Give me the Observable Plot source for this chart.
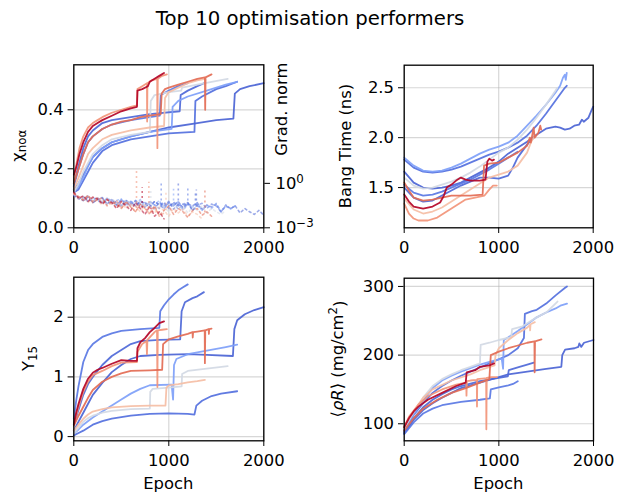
<!DOCTYPE html>
<html><head><meta charset="utf-8">
<script src="https://cdn.jsdelivr.net/npm/d3@7"></script>
<script src="https://cdn.jsdelivr.net/npm/@observablehq/plot@0.6"></script>
<style>
body{margin:0;background:#fff;}
#fig{position:relative;width:618px;height:496px;font-family:"DejaVu Sans",sans-serif;background:#fff;}
#fig svg{position:absolute;left:0;top:0;overflow:visible;}
</style></head><body>
<div id="fig"></div>
<script>
// ---------- data ----------
const runNames = ["run 1","run 2","run 3","run 4","run 5","run 6","run 7","run 8","run 9","run 10"];
const runColors = ["#b40426","#e36b54","#f29478","#f5bea5","#d3d9e4","#7ea0f8","#5a78e4","#4e68d8","#4b64d5","#5470de"];
const xTicks = [0, 1000, 2000];
const chiTicks = [0, 0.2, 0.4];
const gradTicks = [1e-3, 1];
const bangTicks = [1.5, 2.0, 2.5];
const yieldTicks = [0, 1, 2];
const rhoRTicks = [100, 200, 300];
const gradStep = 50;

const chiRuns = [
 [[0,0.18],[30,0.21],[60,0.25],[100,0.29],[150,0.325],[200,0.345],[250,0.355],[300,0.365],[400,0.38],[500,0.395],[600,0.405],[665,0.41],[670,0.465],[720,0.47],[780,0.48],[800,0.495],[850,0.505],[900,0.515],[950,0.525]],
 [[0,0.15],[50,0.2],[100,0.25],[150,0.29],[200,0.31],[300,0.335],[400,0.35],[500,0.36],[600,0.365],[700,0.375],[800,0.38],[915,0.385],[925,0.455],[960,0.47],[1000,0.475],[1100,0.485],[1200,0.495],[1300,0.505],[1380,0.51],[1383,0.40],[1387,0.51],[1450,0.52]],
 [[0,0.16],[30,0.22],[60,0.27],[100,0.31],[150,0.34],[200,0.355],[250,0.365],[300,0.375],[400,0.39],[500,0.40],[600,0.41],[665,0.415],[670,0.47],[720,0.48],[770,0.49],[772,0.36],[775,0.49],[820,0.50],[878,0.505],[880,0.27],[884,0.505],[930,0.515],[980,0.52]],
 [[0,0.13],[50,0.17],[100,0.21],[150,0.25],[200,0.27],[300,0.3],[400,0.315],[600,0.33],[800,0.34],[950,0.345],[960,0.44],[1000,0.46],[1100,0.475],[1200,0.49],[1300,0.50],[1380,0.505]],
 [[0,0.12],[50,0.15],[100,0.19],[150,0.22],[200,0.25],[300,0.28],[400,0.3],[600,0.315],[800,0.325],[810,0.43],[850,0.45],[1000,0.46],[1130,0.465],[1140,0.475],[1300,0.485],[1450,0.495],[1620,0.505]],
 [[0,0.12],[50,0.14],[100,0.17],[150,0.21],[200,0.24],[300,0.27],[400,0.29],[600,0.31],[800,0.325],[1030,0.335],[1040,0.41],[1100,0.43],[1200,0.445],[1400,0.465],[1600,0.485],[1720,0.495]],
 [[0,0.14],[50,0.2],[100,0.25],[150,0.29],[200,0.31],[300,0.335],[400,0.35],[600,0.365],[800,0.375],[905,0.38],[915,0.45],[1000,0.465],[1100,0.48],[1200,0.49]],
 [[0,0.15],[50,0.21],[100,0.27],[150,0.31],[200,0.33],[300,0.355],[400,0.365],[600,0.375],[800,0.385],[1115,0.395],[1125,0.45],[1200,0.465],[1300,0.48],[1370,0.49]],
 [[0,0.13],[50,0.15],[100,0.18],[150,0.21],[200,0.24],[300,0.27],[400,0.29],[600,0.31],[800,0.325],[1000,0.34],[1300,0.355],[1500,0.365],[1680,0.37],[1695,0.455],[1750,0.47],[1850,0.48],[2000,0.49]],
 [[0,0.12],[50,0.13],[100,0.16],[150,0.19],[200,0.22],[300,0.26],[400,0.28],[600,0.3],[800,0.31],[1000,0.32],[1270,0.325],[1280,0.43],[1350,0.445],[1500,0.47],[1600,0.48],[1720,0.495]]
];

// gradient norm, one value every gradStep epochs
const gradRuns = [
 [0.25,0.1,0.14,0.06,0.12,0.09,0.04,0.08,0.05,0.02,0.06,0.03,0.015,0.05,0.02,0.008,0.03,0.006,0.012,0.004],
 [0.2,0.12,0.07,0.15,0.05,0.08,0.1,0.03,0.06,0.04,0.02,0.06,0.025,0.012,0.04,0.02,0.01,0.03,0.007,0.015,0.03,0.008,0.02,0.012,0.005,0.015,0.02,0.007,0.012,0.006],
 [0.22,0.13,0.08,0.16,0.06,0.1,0.045,0.09,0.035,0.07,0.02,0.05,0.03,0.012,0.04,0.02,0.008,0.025,0.006,0.01],
 [0.18,0.09,0.13,0.05,0.11,0.07,0.035,0.08,0.05,0.025,0.06,0.02,0.04,0.03,0.012,0.035,0.02,0.01,0.025,0.015,0.006,0.02,0.01,0.018,0.006,0.012,0.008,0.004],
 [0.2,0.13,0.08,0.14,0.06,0.1,0.07,0.04,0.09,0.05,0.03,0.07,0.04,0.025,0.06,0.03,0.05,0.015,0.04,0.025,0.012,0.04,0.02,0.03,0.01,0.025,0.015,0.03,0.01,0.02,0.012,0.008,0.015],
 [0.18,0.1,0.13,0.06,0.11,0.08,0.05,0.1,0.04,0.07,0.09,0.03,0.06,0.045,0.08,0.025,0.05,0.035,0.07,0.02,0.05,0.03,0.06,0.015,0.04,0.025,0.05,0.015,0.035,0.02,0.045,0.012,0.03,0.018,0.03],
 [0.2,0.12,0.08,0.15,0.06,0.1,0.05,0.09,0.07,0.035,0.08,0.05,0.03,0.07,0.04,0.025,0.06,0.035,0.02,0.05,0.03,0.045,0.018,0.035,0.04],
 [0.17,0.1,0.07,0.13,0.05,0.09,0.11,0.04,0.08,0.05,0.03,0.07,0.04,0.065,0.025,0.05,0.035,0.02,0.05,0.03,0.06,0.018,0.04,0.025,0.05,0.015,0.03,0.02],
 [0.16,0.11,0.07,0.12,0.05,0.08,0.1,0.04,0.07,0.05,0.03,0.07,0.045,0.03,0.06,0.04,0.025,0.06,0.035,0.02,0.05,0.03,0.06,0.02,0.04,0.03,0.05,0.015,0.035,0.025,0.04,0.012,0.03,0.02,0.03,0.01,0.02,0.012,0.008,0.015,0.007],
 [0.15,0.09,0.12,0.06,0.1,0.07,0.045,0.09,0.05,0.035,0.075,0.04,0.06,0.03,0.065,0.045,0.025,0.06,0.035,0.05,0.02,0.055,0.03,0.04,0.05,0.015,0.035,0.045,0.02,0.04,0.03,0.012,0.035,0.02,0.03]
];
// short gradient bursts: [run index, epoch, base, peak]
const gradSpikes = [
 [2, 660, 0.02, 7], [2, 790, 0.02, 1.2], [0, 720, 0.02, 0.5], [6, 920, 0.03, 1],
 [7, 1100, 0.03, 1], [6, 1200, 0.03, 0.6], [5, 1050, 0.03, 0.4], [8, 1290, 0.03, 0.35],
 [1, 1380, 0.01, 0.4], [3, 970, 0.015, 0.3], [4, 810, 0.02, 0.3], [9, 1280, 0.03, 0.3]
];

const bangRuns = [
 [[0,1.43],[50,1.36],[100,1.31],[200,1.29],[300,1.31],[380,1.35],[420,1.42],[450,1.5],[500,1.53],[550,1.57],[600,1.6],[650,1.58],[700,1.57],[800,1.57],[860,1.58],[880,1.76],[900,1.79],[930,1.77],[950,1.78]],
 [[0,1.55],[50,1.47],[100,1.4],[200,1.37],[300,1.38],[400,1.4],[500,1.42],[600,1.42],[700,1.42],[830,1.43],[845,1.72],[900,1.74],[1000,1.75],[1100,1.8],[1200,1.85],[1300,1.92],[1330,2.0],[1340,1.95],[1370,2.1],[1380,2.0],[1420,2.05],[1440,2.12],[1450,2.08]],
 [[0,1.34],[50,1.24],[100,1.19],[150,1.17],[250,1.17],[350,1.2],[450,1.26],[550,1.32],[650,1.38],[750,1.4],[850,1.42],[900,1.48],[940,1.52],[980,1.52]],
 [[0,1.39],[100,1.28],[200,1.24],[300,1.26],[400,1.3],[500,1.36],[600,1.42],[700,1.48],[800,1.54],[900,1.6],[1000,1.63],[1100,1.66],[1200,1.72],[1300,1.85],[1340,1.95],[1380,2.02]],
 [[0,1.6],[100,1.52],[200,1.49],[300,1.5],[400,1.53],[500,1.56],[600,1.6],[700,1.65],[800,1.71],[900,1.78],[1000,1.85],[1100,1.9],[1200,1.98],[1300,2.08],[1400,2.2],[1500,2.33],[1600,2.47],[1620,2.5]],
 [[0,1.8],[100,1.72],[200,1.67],[300,1.66],[400,1.67],[500,1.7],[600,1.74],[700,1.79],[800,1.84],[900,1.88],[1000,1.91],[1100,1.95],[1200,2.02],[1300,2.12],[1400,2.22],[1500,2.33],[1600,2.45],[1650,2.52],[1680,2.6],[1700,2.63],[1710,2.58],[1720,2.65]],
 [[0,1.53],[100,1.45],[200,1.42],[300,1.43],[400,1.46],[500,1.5],[600,1.54],[700,1.58],[800,1.63],[900,1.68],[1000,1.74],[1100,1.8],[1200,1.86]],
 [[0,1.5],[100,1.4],[200,1.36],[300,1.37],[400,1.42],[500,1.47],[600,1.52],[700,1.56],[800,1.6],[900,1.6],[1000,1.59],[1100,1.62],[1150,1.7],[1200,1.8],[1300,1.93],[1370,2.0]],
 [[0,1.66],[100,1.55],[200,1.5],[300,1.49],[400,1.5],[500,1.52],[600,1.55],[700,1.6],[800,1.65],[900,1.7],[1000,1.76],[1100,1.84],[1200,1.9],[1300,1.96],[1400,2.03],[1500,2.09],[1600,2.11],[1650,2.1],[1700,2.08],[1750,2.09],[1800,2.12],[1850,2.13],[1880,2.18],[1900,2.16],[1950,2.2],[1980,2.27],[2000,2.31]],
 [[0,1.78],[100,1.7],[200,1.66],[300,1.65],[400,1.66],[500,1.68],[600,1.71],[700,1.75],[800,1.79],[900,1.83],[1000,1.86],[1100,1.9],[1200,1.95],[1300,2.02],[1400,2.12],[1500,2.24],[1600,2.37],[1700,2.5],[1720,2.52]]
];

const yieldRuns = [
 [[0,0.2],[25,0.4],[50,0.55],[100,0.8],[150,0.97],[200,1.07],[250,1.12],[300,1.15],[400,1.22],[500,1.28],[600,1.27],[665,1.27],[670,1.48],[700,1.58],[750,1.65],[800,1.75],[850,1.82],[900,1.9],[950,1.93]],
 [[0,0.18],[50,0.35],[100,0.5],[150,0.65],[200,0.78],[300,0.92],[400,1.0],[500,1.06],[600,1.1],[800,1.11],[930,1.12],[940,1.55],[1000,1.63],[1100,1.68],[1200,1.72],[1250,1.75],[1252,1.66],[1256,1.75],[1300,1.76],[1378,1.78],[1380,1.23],[1384,1.78],[1420,1.8],[1422,1.72],[1425,1.8],[1450,1.81]],
 [[0,0.2],[25,0.35],[50,0.5],[100,0.75],[150,0.92],[200,1.03],[300,1.1],[400,1.18],[500,1.24],[665,1.25],[670,1.42],[720,1.55],[765,1.6],[770,1.38],[775,1.62],[850,1.75],[876,1.78],[880,0.83],[884,1.78],[930,1.79],[980,1.8]],
 [[0,0.1],[50,0.2],[100,0.3],[150,0.37],[200,0.42],[300,0.46],[400,0.49],[600,0.51],[800,0.52],[965,0.52],[975,0.82],[1000,0.86],[1100,0.88],[1200,0.91],[1300,0.93],[1380,0.95]],
 [[0,0.05],[50,0.15],[100,0.25],[150,0.31],[200,0.35],[300,0.4],[400,0.43],[600,0.46],[800,0.47],[805,0.75],[830,0.8],[1000,0.82],[1135,0.84],[1140,1.05],[1200,1.1],[1400,1.14],[1620,1.18]],
 [[0,0.05],[50,0.12],[100,0.2],[200,0.32],[300,0.42],[400,0.52],[500,0.62],[600,0.72],[700,0.8],[800,0.86],[1030,0.87],[1045,0.62],[1055,1.2],[1080,1.3],[1200,1.38],[1400,1.44],[1600,1.5],[1720,1.54]],
 [[0,0.3],[25,0.6],[50,0.85],[100,1.25],[150,1.45],[200,1.55],[300,1.67],[400,1.73],[500,1.77],[700,1.8],[900,1.82],[910,2.1],[950,2.2],[1000,2.3],[1050,2.38],[1100,2.45],[1150,2.5],[1200,2.55]],
 [[0,0.2],[50,0.45],[100,0.7],[150,0.88],[200,1.0],[300,1.2],[400,1.35],[500,1.45],[600,1.55],[700,1.6],[900,1.62],[1120,1.63],[1135,2.1],[1170,2.25],[1250,2.32],[1300,2.35],[1370,2.42]],
 [[0,0.1],[50,0.25],[100,0.4],[150,0.55],[200,0.7],[300,0.9],[400,1.08],[500,1.2],[600,1.3],[700,1.35],[900,1.37],[1200,1.38],[1400,1.37],[1675,1.35],[1690,1.8],[1720,1.95],[1800,2.05],[1900,2.12],[2000,2.17]],
 [[0,0.02],[50,0.06],[100,0.1],[150,0.15],[200,0.2],[300,0.26],[400,0.3],[600,0.35],[800,0.38],[1000,0.39],[1200,0.38],[1270,0.37],[1290,0.52],[1350,0.6],[1450,0.68],[1550,0.72],[1720,0.76]]
];

const rhoRRuns = [
 [[0,95],[50,108],[100,118],[150,125],[250,135],[400,145],[550,155],[650,160],[660,175],[750,178],[800,183],[900,185],[950,188]],
 [[0,90],[100,108],[200,122],[350,135],[500,145],[650,152],[800,160],[900,165],[905,178],[915,200],[1000,205],[1100,210],[1200,214],[1300,218],[1376,220],[1378,175],[1382,220],[1450,223]],
 [[0,95],[50,110],[150,128],[250,140],[400,150],[550,157],[655,160],[658,141],[662,162],[700,163],[767,164],[769,125],[772,165],[850,166],[866,166],[868,92],[872,167],[920,168],[980,168]],
 [[0,97],[100,118],[200,138],[300,150],[500,163],[700,172],[800,178],[955,185],[965,200],[1000,210],[1100,222],[1200,232],[1300,240],[1328,244],[1330,236],[1335,245],[1380,248]],
 [[0,93],[100,117],[200,138],[300,155],[400,165],[500,172],[600,178],[700,183],[800,188],[808,215],[900,218],[1000,222],[1130,226],[1140,238],[1250,242],[1400,255],[1500,262],[1620,278]],
 [[0,92],[100,114],[200,134],[300,152],[400,163],[500,170],[600,176],[700,181],[800,186],[900,190],[1030,195],[1045,180],[1052,222],[1100,226],[1200,235],[1300,245],[1400,255],[1500,262],[1600,268],[1650,272],[1720,275]],
 [[0,85],[100,102],[200,115],[300,122],[400,127],[600,132],[800,135],[905,137],[915,150],[1000,153],[1100,156],[1150,158],[1200,162]],
 [[0,88],[100,108],[200,124],[300,135],[400,143],[500,150],[600,155],[800,162],[1000,167],[1095,169],[1105,178],[1200,182],[1300,186],[1370,189]],
 [[0,86],[100,106],[200,120],[300,130],[400,138],[500,145],[600,152],[800,160],[1000,168],[1100,172],[1300,176],[1500,180],[1660,183],[1670,200],[1700,208],[1800,210],[1840,212],[1850,217],[1870,212],[1900,218],[2000,222]],
 [[0,90],[100,113],[200,130],[300,145],[400,155],[500,163],[600,170],[700,176],[800,182],[900,188],[1000,194],[1100,200],[1200,210],[1265,225],[1275,260],[1350,264],[1400,266],[1500,275],[1600,287],[1700,298],[1720,300]]
];

// ---------- drawing ----------
const W = 618, H = 496;
const FONT = "DejaVu Sans, sans-serif";
const FS = 16.4;
const fig = document.getElementById("fig");
const drawOrder = [9,8,7,6,5,4,3,2,1,0];
const gridStyle = {stroke: "#b0b0b0", strokeOpacity: 0.5, strokeWidth: 1.2};

function lineMarks(runs) {
  return drawOrder.map(i => Plot.line(runs[i], {x: d => d[0], y: d => d[1], stroke: runColors[i], strokeWidth: 1.8, strokeOpacity: 0.92}));
}

function panel(box, yOpts, runs) {
  return Plot.plot({
    width: W, height: H,
    marginLeft: box.l, marginRight: W - box.r, marginTop: box.t, marginBottom: H - box.b,
    style: {fontFamily: FONT, fontSize: FS + "px", color: "black", background: "none", overflow: "visible"},
    x: {domain: [0, 2000], ticks: xTicks, tickFormat: d => String(d), tickSize: 5.7, tickPadding: 8, label: null},
    y: Object.assign({tickSize: 5.7, tickPadding: 4.5, label: null}, yOpts),
    marks: [
      Plot.ruleX(xTicks, {x: d => d, ...gridStyle}),
      Plot.ruleY(yOpts.ticks, {y: d => d, ...gridStyle}),
      ...lineMarks(runs),
      Plot.frame({stroke: "black", strokeWidth: 1.3})
    ]
  });
}

const boxTL = {l: 73.3, r: 263.3, t: 64.3, b: 227.3};
const boxTR = {l: 403.7, r: 592.7, t: 64.7, b: 227.3};
const boxBL = {l: 73.3, r: 263.3, t: 276.7, b: 440.3};
const boxBR = {l: 403.7, r: 593, t: 277.7, b: 440.3};

fig.appendChild(panel(boxTL, {domain: [0, 0.5525], ticks: chiTicks, tickFormat: d3.format(".1f")}, chiRuns));

// twin axis: gradient norm (log)
const gradData = gradRuns.map(vals => vals.map((v, j) => [j * gradStep, v]));
const dotted = {strokeWidth: 1.6, strokeOpacity: 0.55, strokeDasharray: "2,3"};
const twin = Plot.plot({
  width: W, height: H,
  marginLeft: boxTL.l, marginRight: W - boxTL.r, marginTop: boxTL.t, marginBottom: H - boxTL.b,
  style: {fontFamily: FONT, fontSize: FS + "px", color: "black", background: "none", overflow: "visible"},
  x: {domain: [0, 2000], axis: null},
  y: {type: "log", domain: [1e-3, 1e8], axis: "right", ticks: gradTicks, tickSize: 5.7, tickPadding: 6, label: null,
      tickFormat: d => d >= 1 ? "10^0" : "10^-3"},
  marks: [
    ...drawOrder.map(i => Plot.line(gradData[i], {x: d => d[0], y: d => d[1], stroke: runColors[i], ...dotted})),
    Plot.ruleX(gradSpikes, {x: d => d[1], y1: d => d[2], y2: d => d[3], stroke: d => runColors[d[0]], ...dotted})
  ]
});
fig.appendChild(twin);
twin.querySelectorAll("text").forEach(t => {
  const s = t.textContent;
  if (s.startsWith("10^")) {
    const exp = s.slice(3).replace("-", "\u2212");
    const sel = d3.select(t); sel.text("");
    sel.append("tspan").text("10");
    sel.append("tspan").attr("dy", "-0.5em").attr("font-size", "72%").text(exp);
  }
});

fig.appendChild(panel(boxTR, {domain: [1.097, 2.726], ticks: bangTicks, tickFormat: d3.format(".1f")}, bangRuns));
fig.appendChild(panel(boxBL, {domain: [-0.07, 2.67], ticks: yieldTicks, tickFormat: d3.format("d")}, yieldRuns));
fig.appendChild(panel(boxBR, {domain: [75.2, 312], ticks: rhoRTicks, tickFormat: d3.format("d")}, rhoRRuns));

// ---------- titles & axis labels ----------
const lab = d3.create("svg").attr("width", W).attr("height", H)
  .attr("font-family", FONT).attr("font-size", FS).attr("fill", "black");
lab.append("text").attr("x", 310).attr("y", 25).attr("text-anchor", "middle").attr("font-size", 19.7)
  .text("Top 10 optimisation performers");

function rotLabel(x, y, anchor) {
  return lab.append("text").attr("transform", `translate(${x},${y}) rotate(-90)`)
    .attr("text-anchor", anchor).attr("dy", "0.35em");
}
const chiL = rotLabel(17, 145.7, "middle");
chiL.append("tspan").text("\u03c7");
chiL.append("tspan").attr("dy", "0.3em").attr("font-size", "72%").text("no\u03b1");

rotLabel(281, 62.5, "end").text("Grad. norm");
rotLabel(345.5, 146, "middle").text("Bang Time (ns)");

const yL = rotLabel(28, 358.5, "middle");
yL.append("tspan").text("Y");
yL.append("tspan").attr("dy", "0.3em").attr("font-size", "72%").text("15");

const rL = rotLabel(337, 359, "middle");
rL.append("tspan").text("\u27e8");
rL.append("tspan").attr("font-style", "italic").text("\u03c1R");
rL.append("tspan").text("\u27e9 (mg/cm");
rL.append("tspan").attr("dy", "-0.45em").attr("font-size", "72%").text("2");
rL.append("tspan").attr("dy", "0.45em").text(")");

lab.append("text").attr("x", 168.3).attr("y", 488.5).attr("text-anchor", "middle").text("Epoch");
lab.append("text").attr("x", 498.4).attr("y", 488.5).attr("text-anchor", "middle").text("Epoch");
fig.appendChild(lab.node());
</script>
</body></html>
